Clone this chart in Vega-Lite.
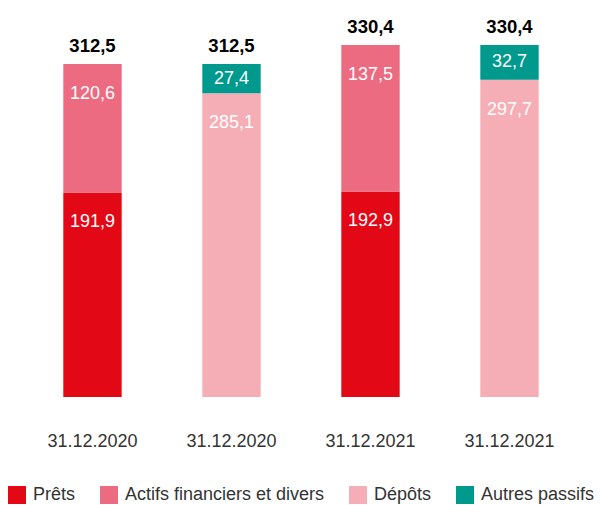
{
  "$schema": "https://vega.github.io/schema/vega-lite/v6.json",
  "width": 556,
  "height": 387,
  "autosize": {"type": "none"},
  "padding": {"left": 23, "top": 10, "right": 21, "bottom": 108},
  "config": {
    "view": {"stroke": null},
    "font": "Liberation Sans",
    "locale": {"number": {"decimal": ",", "thousands": ".", "grouping": [3], "currency": ["", " €"]}}
  },
  "data": {
    "values": [
      {"bar": "1", "date": "31.12.2020", "cat": "Prêts", "ord": 1, "value": 191.9},
      {"bar": "1", "date": "31.12.2020", "cat": "Actifs financiers et divers", "ord": 2, "value": 120.6},
      {"bar": "2", "date": "31.12.2020", "cat": "Dépôts", "ord": 1, "value": 285.1},
      {"bar": "2", "date": "31.12.2020", "cat": "Autres passifs", "ord": 2, "value": 27.4},
      {"bar": "3", "date": "31.12.2021", "cat": "Prêts", "ord": 1, "value": 192.9},
      {"bar": "3", "date": "31.12.2021", "cat": "Actifs financiers et divers", "ord": 2, "value": 137.5},
      {"bar": "4", "date": "31.12.2021", "cat": "Dépôts", "ord": 1, "value": 297.7},
      {"bar": "4", "date": "31.12.2021", "cat": "Autres passifs", "ord": 2, "value": 32.7}
    ]
  },
  "transform": [
    {"stack": "value", "groupby": ["bar"], "sort": [{"field": "ord", "order": "ascending"}], "as": ["y0", "y1"]},
    {"calculate": "datum.y1 - min(28, datum.value / 2)", "as": "ly"},
    {"joinaggregate": [{"op": "sum", "field": "value", "as": "total"}], "groupby": ["bar"]}
  ],
  "encoding": {
    "x": {
      "field": "bar",
      "type": "nominal",
      "scale": {"paddingInner": 0.58, "paddingOuter": 0.29},
      "axis": {
        "title": null,
        "labelAngle": 0,
        "domain": false,
        "ticks": false,
        "labelPadding": 35,
        "labelFontSize": 18,
        "labelColor": "#333333",
        "labelExpr": "datum.value == '1' || datum.value == '2' ? '31.12.2020' : '31.12.2021'"
      }
    }
  },
  "layer": [
    {
      "mark": {"type": "bar"},
      "encoding": {
        "y": {"field": "y0", "type": "quantitative", "scale": {"domain": [0, 363.2], "nice": false, "zero": true}, "axis": null},
        "y2": {"field": "y1"},
        "color": {
          "field": "cat",
          "type": "nominal",
          "scale": {
            "domain": ["Prêts", "Actifs financiers et divers", "Dépôts", "Autres passifs"],
            "range": ["#E20815", "#EC6B81", "#F5AEB5", "#00998E"]
          },
          "legend": {
            "title": null,
            "orient": "none",
            "legendX": -15,
            "legendY": 476,
            "direction": "horizontal",
            "columns": 4,
            "symbolType": "square",
            "symbolSize": 324,
            "symbolStrokeWidth": 0,
            "symbolOpacity": 1,
            "labelFontSize": 18,
            "labelColor": "#333333",
            "columnPadding": 24,
            "labelOffset": 7,
            "labelLimit": 400
          }
        }
      }
    },
    {
      "mark": {"type": "text", "color": "white", "fontSize": 18, "baseline": "middle"},
      "encoding": {
        "y": {"field": "ly", "type": "quantitative"},
        "text": {"field": "value", "type": "quantitative", "format": ".1f"}
      }
    },
    {
      "transform": [{"filter": "datum.ord == 2"}],
      "mark": {"type": "text", "fontWeight": "bold", "fontSize": 18.5, "color": "black", "baseline": "middle", "dy": -18},
      "encoding": {
        "y": {"field": "total", "type": "quantitative"},
        "text": {"field": "total", "type": "quantitative", "format": ".1f"}
      }
    }
  ]
}
